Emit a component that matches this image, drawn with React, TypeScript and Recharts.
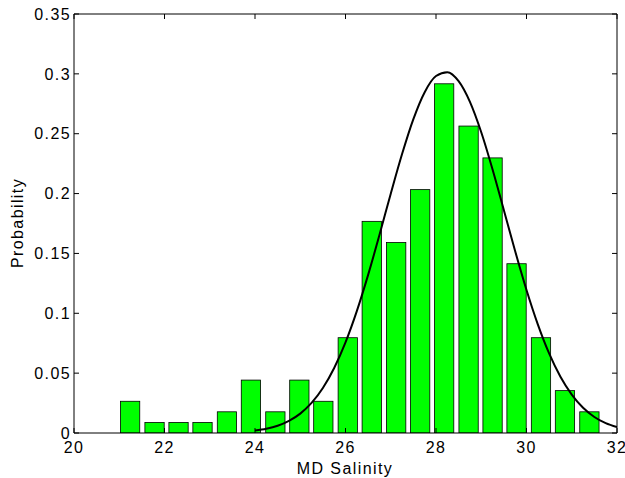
import { ComposedChart, Bar, Line, XAxis, YAxis, Label } from 'recharts';

// histogram bin centres (MD salinity) and their probability heights
const binCenters = [
  21.24, 21.78, 22.31, 22.84, 23.38, 23.91, 24.45, 24.98, 25.51, 26.05,
  26.58, 27.12, 27.65, 28.18, 28.72, 29.25, 29.78, 30.32, 30.85, 31.39,
];
const binProb = [
  0.0265, 0.0088, 0.0088, 0.0088, 0.0177, 0.0442, 0.0177, 0.0442, 0.0265, 0.0796,
  0.1768, 0.1591, 0.2033, 0.2917, 0.2564, 0.2298, 0.1414, 0.0796, 0.0354, 0.0177,
];

// fitted curve
const curveX = [
  24, 24.25, 24.5, 24.75, 25, 25.25, 25.5, 25.75, 26, 26.25, 26.5, 26.75, 27, 27.25,
  27.5, 27.75, 28, 28.25, 28.5, 28.75, 29, 29.25, 29.5, 29.75, 30, 30.25, 30.5, 30.75,
  31, 31.25, 31.5, 31.75, 32,
];
const curveY = [
  0.002, 0.0035, 0.006, 0.0101, 0.0162, 0.0251, 0.0376, 0.0543, 0.0757, 0.1018, 0.1321,
  0.1654, 0.1999, 0.233, 0.2622, 0.2847, 0.2982, 0.3014, 0.2939, 0.2766, 0.2512, 0.2201,
  0.1861, 0.1518, 0.1195, 0.0908, 0.0665, 0.047, 0.0321, 0.0211, 0.0134, 0.0082, 0.0049,
];

const xTicks = [20, 22, 24, 26, 28, 30, 32];
const yTicks = [0, 0.05, 0.1, 0.15, 0.2, 0.25, 0.3, 0.35];

const bars = binCenters.map((x, i) => ({ x, p: binProb[i] }));
const curve = curveX.map((x, i) => ({ x, y: curveY[i] }));

const font = 'Liberation Sans, Arial, Helvetica, sans-serif';
const tickStyle = { fill: '#000', fontSize: 16 };
const BAR_W = 19.3;

// bar centred on its bin, fixed width like matlab's hist
const HistBar = (props: any) => {
  const { x, y, width, height } = props;
  if (height == null || height <= 0) return null;
  const cx = x + width / 2;
  return (
    <rect
      x={cx - BAR_W / 2}
      y={y}
      width={BAR_W}
      height={height}
      fill="#00ff00"
      stroke="#000"
      strokeWidth={0.8}
    />
  );
};

export default function App() {
  return (
    <div
      style={{
        position: 'absolute',
        left: 0,
        top: 0,
        width: 625,
        height: 478,
        background: '#fff',
        fontFamily: font,
        letterSpacing: '1.4px',
      }}
    >
      <ComposedChart
        width={625}
        height={478}
        data={bars}
        margin={{ top: 13, right: 7, bottom: 15, left: 14 }}
      >
        <XAxis
          xAxisId="b"
          dataKey="x"
          type="number"
          domain={[20, 32]}
          ticks={xTicks}
          interval={0}
          height={30}
          tickSize={-5}
          tickMargin={14}
          tick={tickStyle}
          stroke="#000"
          allowDataOverflow
        >
          <Label
            content={() => (
              <text x={345} y={474} textAnchor="middle" fontSize={16} fill="#000">
                MD Salinity
              </text>
            )}
          />
        </XAxis>
        <XAxis
          xAxisId="t"
          orientation="top"
          dataKey="x"
          type="number"
          domain={[20, 32]}
          ticks={xTicks}
          interval={0}
          height={1}
          tickSize={-5}
          tickFormatter={() => ''}
          stroke="#000"
          allowDataOverflow
        />
        <YAxis
          yAxisId="l"
          type="number"
          domain={[0, 0.35]}
          ticks={yTicks}
          interval={0}
          width={60}
          tickSize={-5}
          tickMargin={8}
          tick={tickStyle}
          tickFormatter={(v) => String(v)}
          stroke="#000"
          allowDataOverflow
        >
          <Label
            content={() => (
              <text
                x={23}
                y={223}
                transform="rotate(-90 23 223)"
                textAnchor="middle"
                fontSize={16}
                fill="#000"
              >
                Probability
              </text>
            )}
          />
        </YAxis>
        <YAxis
          yAxisId="r"
          orientation="right"
          type="number"
          domain={[0, 0.35]}
          ticks={yTicks}
          interval={0}
          width={1}
          tickSize={-5}
          tickFormatter={() => ''}
          stroke="#000"
          allowDataOverflow
        />
        <Bar
          xAxisId="b"
          yAxisId="l"
          dataKey="p"
          shape={HistBar}
          isAnimationActive={false}
        />
        <Line
          xAxisId="b"
          yAxisId="l"
          data={curve}
          dataKey="y"
          type="monotone"
          stroke="#000"
          strokeWidth={2}
          dot={false}
          activeDot={false}
          isAnimationActive={false}
        />
        {/* invisible copy so the top/right frame axes get drawn */}
        <Line
          xAxisId="t"
          yAxisId="r"
          data={curve}
          dataKey="y"
          stroke="none"
          dot={false}
          activeDot={false}
          legendType="none"
          isAnimationActive={false}
        />
      </ComposedChart>
    </div>
  );
}
